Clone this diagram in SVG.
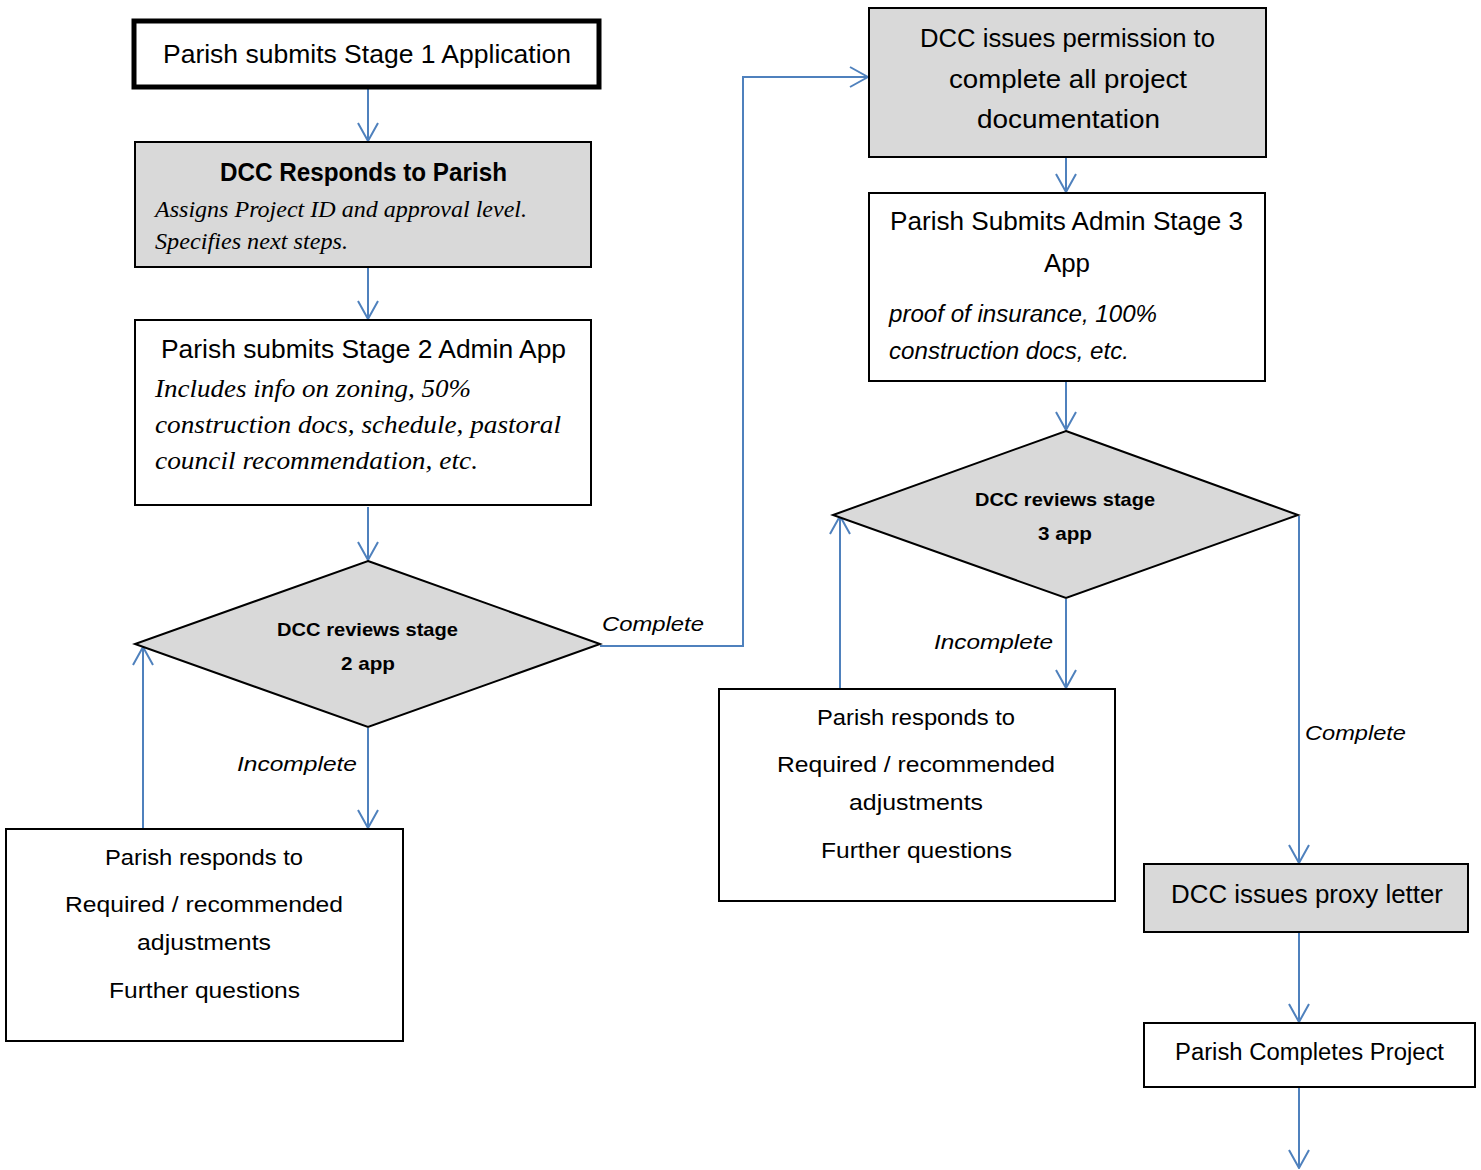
<svg xmlns="http://www.w3.org/2000/svg" width="1481" height="1170" viewBox="0 0 1481 1170">
<defs>
<style>
.box{fill:#fff;stroke:#000;stroke-width:2}
.gray{fill:#d9d9d9;stroke:#000;stroke-width:2}
.t{font-family:"Liberation Sans",Arial,sans-serif;fill:#000}
.c{text-anchor:middle}
.b{font-weight:bold}
.si{font-family:"Liberation Serif","Times New Roman",serif;font-style:italic;fill:#000}
.i{font-style:italic}
.con{fill:none;stroke:#4f81bd;stroke-width:2}
</style>
<marker id="ah" viewBox="0 0 20 22" refX="19" refY="11" markerWidth="20" markerHeight="22" markerUnits="userSpaceOnUse" orient="auto">
<path d="M1,1 L19,11 L1,21" fill="none" stroke="#4f81bd" stroke-width="2"/>
</marker>
</defs>
<rect width="1481" height="1170" fill="#fff"/>

<g id="connectors">
<line class="con" x1="368" y1="89" x2="368" y2="141" marker-end="url(#ah)"/>
<line class="con" x1="368" y1="268" x2="368" y2="319" marker-end="url(#ah)"/>
<line class="con" x1="368" y1="507" x2="368" y2="560" marker-end="url(#ah)"/>
<polyline class="con" points="600,646 743,646 743,77 868,77" marker-end="url(#ah)"/>
<line class="con" x1="368" y1="728" x2="368" y2="828" marker-end="url(#ah)"/>
<line class="con" x1="143" y1="828" x2="143" y2="647" marker-end="url(#ah)"/>
<line class="con" x1="1066" y1="158" x2="1066" y2="192" marker-end="url(#ah)"/>
<line class="con" x1="1066" y1="382" x2="1066" y2="430" marker-end="url(#ah)"/>
<line class="con" x1="1066" y1="599" x2="1066" y2="688" marker-end="url(#ah)"/>
<line class="con" x1="840" y1="688" x2="840" y2="516" marker-end="url(#ah)"/>
<line class="con" x1="1299" y1="516" x2="1299" y2="863" marker-end="url(#ah)"/>
<line class="con" x1="1299" y1="933" x2="1299" y2="1022" marker-end="url(#ah)"/>
<line class="con" x1="1299" y1="1088" x2="1299" y2="1168" marker-end="url(#ah)"/>
<text class="t i" x="602" y="631" font-size="21" textLength="102" lengthAdjust="spacingAndGlyphs">Complete</text>
<text class="t i" x="237" y="771" font-size="21" textLength="120" lengthAdjust="spacingAndGlyphs">Incomplete</text>
<text class="t i" x="934" y="649" font-size="21" textLength="119" lengthAdjust="spacingAndGlyphs">Incomplete</text>
<text class="t i" x="1305" y="740" font-size="21" textLength="101" lengthAdjust="spacingAndGlyphs">Complete</text>
</g>

<g id="stage1">
<rect x="134" y="21" width="465" height="66" fill="#fff" stroke="#000" stroke-width="5"/>
<text class="t" x="163" y="63" font-size="26" textLength="408" lengthAdjust="spacingAndGlyphs">Parish submits Stage 1 Application</text>
</g>

<g id="dcc-responds">
<rect class="gray" x="135" y="142" width="456" height="125"/>
<text class="t b" x="220" y="181" font-size="26" textLength="287" lengthAdjust="spacingAndGlyphs">DCC Responds to Parish</text>
<text class="si" x="155" y="217" font-size="23" textLength="372" lengthAdjust="spacingAndGlyphs">Assigns Project ID and approval level.</text>
<text class="si" x="155" y="249" font-size="23" textLength="193" lengthAdjust="spacingAndGlyphs">Specifies next steps.</text>
</g>

<g id="stage2">
<rect class="box" x="135" y="320" width="456" height="185"/>
<text class="t" x="161" y="358" font-size="25" textLength="405" lengthAdjust="spacingAndGlyphs">Parish submits Stage 2 Admin App</text>
<text class="si" x="155" y="397" font-size="25" textLength="316" lengthAdjust="spacingAndGlyphs">Includes info on zoning, 50%</text>
<text class="si" x="155" y="433" font-size="25" textLength="406" lengthAdjust="spacingAndGlyphs">construction docs, schedule, pastoral</text>
<text class="si" x="155" y="469" font-size="25" textLength="323" lengthAdjust="spacingAndGlyphs">council recommendation, etc.</text>
</g>

<g id="review2">
<polygon class="gray" points="368,561 600,644 368,727 135,644"/>
<text class="t b" x="277" y="636" font-size="19" textLength="181" lengthAdjust="spacingAndGlyphs">DCC reviews stage</text>
<text class="t b" x="341" y="670" font-size="19" textLength="54" lengthAdjust="spacingAndGlyphs">2 app</text>
</g>

<g id="respond2">
<rect class="box" x="6" y="829" width="397" height="212"/>
<text class="t" x="105" y="865" font-size="22" textLength="198" lengthAdjust="spacingAndGlyphs">Parish responds to</text>
<text class="t" x="65" y="912" font-size="22" textLength="278" lengthAdjust="spacingAndGlyphs">Required / recommended</text>
<text class="t" x="137" y="950" font-size="22" textLength="134" lengthAdjust="spacingAndGlyphs">adjustments</text>
<text class="t" x="109" y="998" font-size="22" textLength="191" lengthAdjust="spacingAndGlyphs">Further questions</text>
</g>

<g id="permission">
<rect class="gray" x="869" y="8" width="397" height="149"/>
<text class="t" x="920" y="47" font-size="26" textLength="295" lengthAdjust="spacingAndGlyphs">DCC issues permission to</text>
<text class="t" x="949" y="88" font-size="26" textLength="238" lengthAdjust="spacingAndGlyphs">complete all project</text>
<text class="t" x="977" y="128" font-size="26" textLength="183" lengthAdjust="spacingAndGlyphs">documentation</text>
</g>

<g id="stage3">
<rect class="box" x="869" y="193" width="396" height="188"/>
<text class="t" x="890" y="230" font-size="26" textLength="353" lengthAdjust="spacingAndGlyphs">Parish Submits Admin Stage 3</text>
<text class="t" x="1044" y="272" font-size="26" textLength="46" lengthAdjust="spacingAndGlyphs">App</text>
<text class="t i" x="889" y="322" font-size="23" textLength="268" lengthAdjust="spacingAndGlyphs">proof of insurance, 100%</text>
<text class="t i" x="889" y="359" font-size="23" textLength="240" lengthAdjust="spacingAndGlyphs">construction docs, etc.</text>
</g>

<g id="review3">
<polygon class="gray" points="1066,431 1298,515 1066,598 833,515"/>
<text class="t b" x="975" y="506" font-size="19" textLength="180" lengthAdjust="spacingAndGlyphs">DCC reviews stage</text>
<text class="t b" x="1038" y="540" font-size="19" textLength="54" lengthAdjust="spacingAndGlyphs">3 app</text>
</g>

<g id="respond3">
<rect class="box" x="719" y="689" width="396" height="212"/>
<text class="t" x="817" y="725" font-size="22" textLength="198" lengthAdjust="spacingAndGlyphs">Parish responds to</text>
<text class="t" x="777" y="772" font-size="22" textLength="278" lengthAdjust="spacingAndGlyphs">Required / recommended</text>
<text class="t" x="849" y="810" font-size="22" textLength="134" lengthAdjust="spacingAndGlyphs">adjustments</text>
<text class="t" x="821" y="858" font-size="22" textLength="191" lengthAdjust="spacingAndGlyphs">Further questions</text>
</g>

<g id="proxy">
<rect class="gray" x="1144" y="864" width="324" height="68"/>
<text class="t" x="1171" y="903" font-size="25" textLength="272" lengthAdjust="spacingAndGlyphs">DCC issues proxy letter</text>
</g>

<g id="complete">
<rect class="box" x="1144" y="1023" width="331" height="64"/>
<text class="t" x="1175" y="1060" font-size="23" textLength="269" lengthAdjust="spacingAndGlyphs">Parish Completes Project</text>
</g>
</svg>
